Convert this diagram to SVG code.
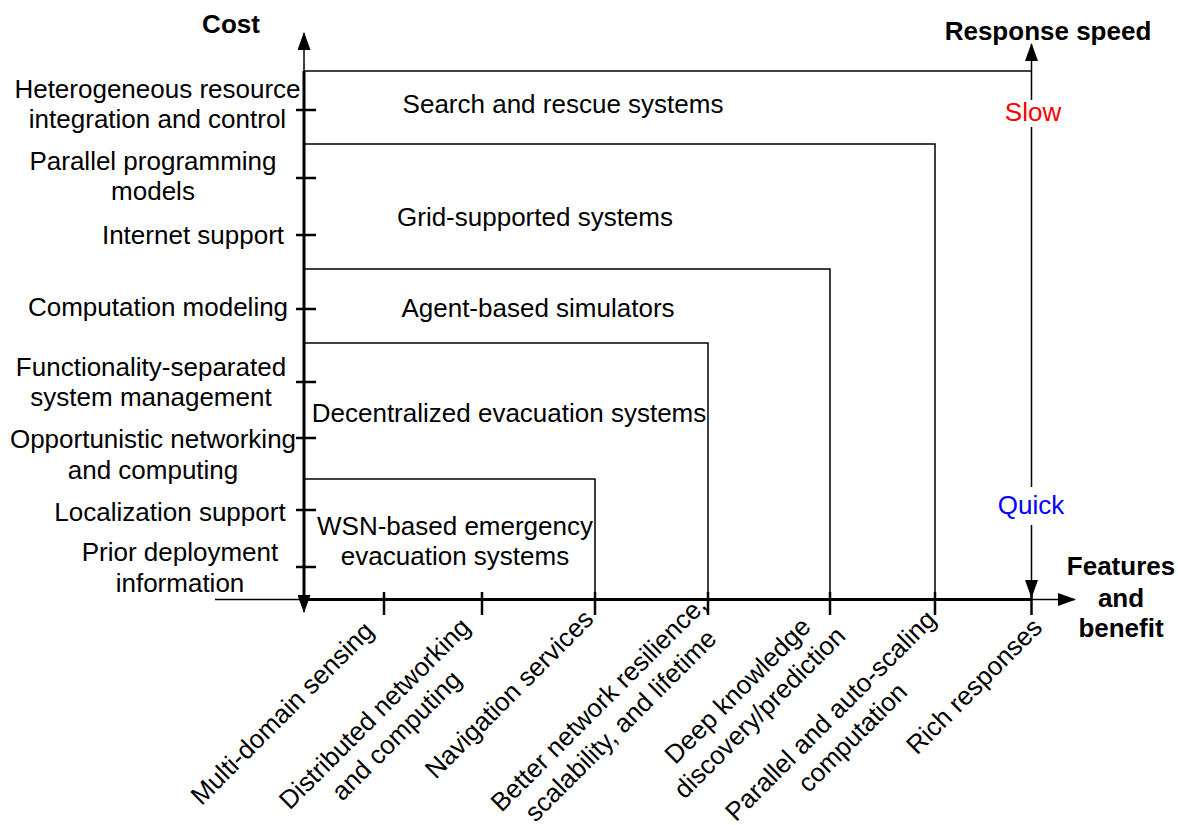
<svg xmlns="http://www.w3.org/2000/svg" width="1178" height="825" viewBox="0 0 1178 825">
<style>
text{font-family:"Liberation Sans",Arial,sans-serif;font-size:26px;fill:#000}
.b{font-weight:bold}
.m{text-anchor:middle}
.thin{stroke:#000;stroke-width:1.5;fill:none}
.axis{stroke:#000;stroke-width:3;fill:none}
.tick{stroke:#000;stroke-width:2.5;fill:none}
</style>
<defs>
<marker id="ah" viewBox="0 0 18 13" refX="17" refY="6.5" markerWidth="18" markerHeight="13" markerUnits="userSpaceOnUse" orient="auto">
<path d="M0,0 L18,6.5 L0,13 Z" fill="#000"/>
</marker>
</defs>
<rect width="1178" height="825" fill="#fff"/>

<g id="connectors">
<!-- cost axis -->
<line class="thin" x1="304" y1="330" x2="304" y2="33" marker-end="url(#ah)"/>
<line class="thin" x1="304" y1="330" x2="304" y2="612" marker-end="url(#ah)"/>
<line class="axis" x1="304" y1="71" x2="304" y2="600"/>
<!-- features axis -->
<line class="thin" x1="215" y1="599.5" x2="1075" y2="599.5" marker-end="url(#ah)"/>
<line class="axis" x1="304" y1="599.5" x2="1031" y2="599.5"/>
<!-- response speed axis -->
<line class="thin" x1="1031.5" y1="100" x2="1031.5" y2="44" marker-end="url(#ah)"/>
<line class="thin" x1="1031.5" y1="127" x2="1031.5" y2="487"/>
<line class="thin" x1="1031.5" y1="525" x2="1031.5" y2="597" marker-end="url(#ah)"/>
<!-- y ticks -->
<g class="tick">
<line x1="296" y1="110" x2="316" y2="110"/>
<line x1="296" y1="178" x2="316" y2="178"/>
<line x1="296" y1="235" x2="316" y2="235"/>
<line x1="296" y1="309" x2="316" y2="309"/>
<line x1="296" y1="382" x2="316" y2="382"/>
<line x1="296" y1="438" x2="316" y2="438"/>
<line x1="296" y1="510" x2="316" y2="510"/>
<line x1="296" y1="567" x2="316" y2="567"/>
</g>
<!-- x ticks -->
<g class="tick">
<line x1="384" y1="592" x2="384" y2="615"/>
<line x1="482" y1="592" x2="482" y2="615"/>
<line x1="595" y1="592" x2="595" y2="615"/>
<line x1="708" y1="592" x2="708" y2="615"/>
<line x1="830" y1="592" x2="830" y2="615"/>
<line x1="935" y1="592" x2="935" y2="615"/>
<line x1="1031.5" y1="592" x2="1031.5" y2="615"/>
</g>
</g>

<g id="search-rescue">
<path class="thin" d="M304,71 H1031.5"/>
<text class="m" x="563" y="113">Search and rescue systems</text>
</g>
<g id="grid-supported">
<path class="thin" d="M304,144 H935 V599"/>
<text class="m" x="535" y="226">Grid-supported systems</text>
</g>
<g id="agent-based">
<path class="thin" d="M304,269 H830 V599"/>
<text class="m" x="538" y="317">Agent-based simulators</text>
</g>
<g id="decentralized">
<path class="thin" d="M304,343 H708 V599"/>
<text class="m" x="509" y="422">Decentralized evacuation systems</text>
</g>
<g id="wsn-based">
<path class="thin" d="M304,479 H595 V599"/>
<text class="m" x="455" y="535">WSN-based emergency</text>
<text class="m" x="455" y="565">evacuation systems</text>
</g>

<g id="axis-titles">
<text class="b m" x="231" y="33">Cost</text>
<text class="b m" x="1048" y="40">Response speed</text>
<text class="b m" x="1121" y="575">Features</text>
<text class="b m" x="1121" y="607">and</text>
<text class="b m" x="1121" y="637">benefit</text>
<text class="m" x="1033" y="121" style="fill:#ff0000">Slow</text>
<text class="m" x="1031" y="514" style="fill:#0000ff">Quick</text>
</g>

<g id="cost-labels">
<text class="m" x="157.5" y="98">Heterogeneous resource</text>
<text class="m" x="157.5" y="128">integration and control</text>
<text class="m" x="153" y="170">Parallel programming</text>
<text class="m" x="153" y="200">models</text>
<text class="m" x="193" y="244">Internet support</text>
<text class="m" x="158" y="316">Computation modeling</text>
<text class="m" x="151" y="376">Functionality-separated</text>
<text class="m" x="151" y="406">system management</text>
<text class="m" x="153" y="448">Opportunistic networking</text>
<text class="m" x="153" y="479">and computing</text>
<text class="m" x="170" y="521">Localization support</text>
<text class="m" x="180" y="561">Prior deployment</text>
<text class="m" x="180" y="592">information</text>
</g>

<g id="feature-labels">
<g transform="translate(282,713) rotate(-45)"><text class="m" x="0" y="9">Multi-domain sensing</text></g>
<g transform="translate(385,724) rotate(-45)"><text class="m" x="0" y="-6">Distributed networking</text><text class="m" x="0" y="25">and computing</text></g>
<g transform="translate(509,694) rotate(-45)"><text class="m" x="0" y="9">Navigation services</text></g>
<g transform="translate(609,714) rotate(-45)"><text class="m" x="0" y="-6">Better network resilience,</text><text class="m" x="0" y="25">scalability, and lifetime</text></g>
<g transform="translate(748,701) rotate(-45)"><text class="m" x="0" y="-6">Deep knowledge</text><text class="m" x="0" y="25">discovery/prediction</text></g>
<g transform="translate(841,726) rotate(-45)"><text class="m" x="0" y="-6">Parallel and auto-scaling</text><text class="m" x="0" y="25">computation</text></g>
<g transform="translate(974,686) rotate(-45)"><text class="m" x="0" y="9">Rich responses</text></g>
</g>
</svg>
